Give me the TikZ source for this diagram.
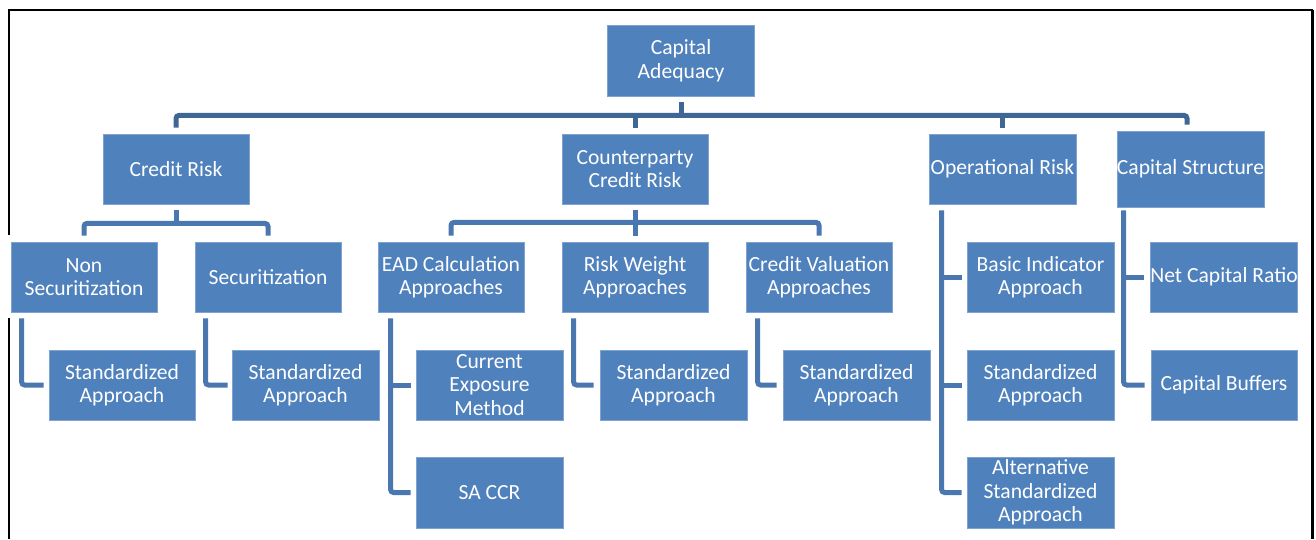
\documentclass[tikz,border=0pt]{standalone}
\usepackage{fontspec}
\setmainfont{Carlito}
\definecolor{boxfill}{HTML}{4F81BD}
\definecolor{boxline}{HTML}{7FA3D1}
\definecolor{topline}{HTML}{3F6795}
\definecolor{subline}{HTML}{4A77B0}
\tikzset{
  box/.style={rectangle, fill=boxfill, draw=boxline, line width=0.8pt,
    minimum width=146pt, minimum height=70pt, inner sep=0pt, align=center,
    text=white, font=\fontsize{21.6}{23.5}\selectfont},
  topconn/.style={draw=topline, line width=5pt, rounded corners=3pt},
  subconn/.style={draw=subline, line width=5pt, rounded corners=3pt},
  frame/.style={draw=black, line width=2pt}
}
\begin{document}
\begin{tikzpicture}[x=1pt,y=-1pt]
\useasboundingbox (0,0) rectangle (1316,539);
% frame
\coordinate (ftl) at (9,10);
\coordinate (ftr) at (1312.5,10);
\coordinate (fbr) at (1312.5,539);
\coordinate (fla) at (9,235);
\coordinate (flb) at (9,318);
\coordinate (flc) at (9,539);
\draw[frame] (fla) -- (ftl) -- (ftr);
\draw[draw=black, line width=3pt] (ftr) -- (fbr);
\draw[frame] (flb) -- (flc);

% level 0 and 1
\node[box, minimum width=147pt, minimum height=71pt] (ca) at (681,60.5) {Capital\\Adequacy};
\node[box] (cr) at (176,169) {Credit Risk};
\node[box] (ccr) at (635,169) {Counterparty\\Credit Risk};
\node[box, minimum width=147pt] (or) at (1002.5,169) {Operational Risk};
\node[box, minimum width=145pt, minimum height=76pt] (cs) at (1190.5,169) {Capital Structure};

% level 2
\node[box] (ns) at (84,277) {Non\\Securitization};
\node[box] (sec) at (268,277) {Securitization};
\node[box] (ead) at (451,277) {EAD Calculation\\Approaches};
\node[box] (rw) at (635,277) {Risk Weight\\Approaches};
\node[box] (cva) at (819,277) {Credit Valuation\\Approaches};
\node[box, minimum width=147pt] (bia) at (1040.5,277) {Basic Indicator\\Approach};
\node[box] (ncr) at (1224,277) {Net Capital Ratio};

% level 3
\node[box] (nsstd) at (122,385) {Standardized\\Approach};
\node[box, minimum width=147pt] (secstd) at (305.5,385) {Standardized\\Approach};
\node[box, minimum width=147pt] (cem) at (489.5,385) {Current\\Exposure\\Method};
\node[box, minimum width=147pt] (rwstd) at (673.5,385) {Standardized\\Approach};
\node[box, minimum width=147pt] (cvastd) at (856.5,385) {Standardized\\Approach};
\node[box, minimum width=147pt] (orstd) at (1040.5,385) {Standardized\\Approach};
\node[box] (cb) at (1224,385) {Capital Buffers};

% level 4
\node[box, minimum width=147pt, minimum height=71pt] (sacr) at (489.5,492.5) {SA CCR};
\node[box, minimum width=147pt, minimum height=71pt] (alt) at (1040.5,492.5) {Alternative\\Standardized\\Approach};

% top connector
\coordinate (bar) at ([yshift=-19pt]ca.south);
\draw[topconn] ([yshift=-6pt]ca.south) -- (bar);
\draw[topconn] ([yshift=6pt]cr.north) |- (bar) -| ([xshift=-3.5pt,yshift=6pt]cs.north);
\draw[topconn] ([yshift=6pt]ccr.north) -- (ccr.north |- bar);
\draw[topconn] ([yshift=6pt]or.north) -- (or.north |- bar);

% credit risk children
\coordinate (crbar) at ([yshift=-19pt]cr.south);
\draw[subconn] ([yshift=-6pt]cr.south) -- (crbar);
\draw[subconn] ([yshift=6pt]ns.north) |- (crbar) -| ([yshift=6pt]sec.north);

% ccr children
\coordinate (ccrbar) at ([yshift=-18pt]ccr.south);
\draw[subconn] ([yshift=-6pt]ccr.south) -- (ccrbar);
\draw[subconn] ([yshift=6pt]ead.north) |- (ccrbar) -| ([yshift=6pt]cva.north);
\draw[subconn] ([yshift=6pt]rw.north) -- (rw.north |- ccrbar);

% elbows
\draw[subconn] ([xshift=11pt,yshift=-6pt]ns.south west) |- ([xshift=-5pt]nsstd.west);
\draw[subconn] ([xshift=11pt,yshift=-6pt]sec.south west) |- ([xshift=-4pt]secstd.west);
\coordinate (eadv) at ([xshift=13pt,yshift=-6pt]ead.south west);
\draw[subconn] (eadv) |- ([xshift=-5pt]sacr.west);
\draw[subconn] ([xshift=-5pt]cem.west) -- (cem.west -| eadv);
\draw[subconn] ([xshift=12pt,yshift=-6pt]rw.south west) |- ([xshift=-6pt]rwstd.west);
\draw[subconn] ([xshift=12pt,yshift=-6pt]cva.south west) |- ([xshift=-6pt]cvastd.west);
\coordinate (orv) at ([xshift=13pt,yshift=-6pt]or.south west);
\draw[subconn] (orv) |- ([xshift=-5pt]alt.west);
\draw[subconn] ([xshift=-5pt]bia.west) -- (bia.west -| orv);
\draw[subconn] ([xshift=-5pt]orstd.west) -- (orstd.west -| orv);
\coordinate (csv) at ([xshift=7pt,yshift=-3pt]cs.south west);
\draw[subconn] (csv) |- ([xshift=-6pt]cb.west);
\draw[subconn] ([xshift=-6pt]ncr.west) -- (ncr.west -| csv);
\end{tikzpicture}
\end{document}
